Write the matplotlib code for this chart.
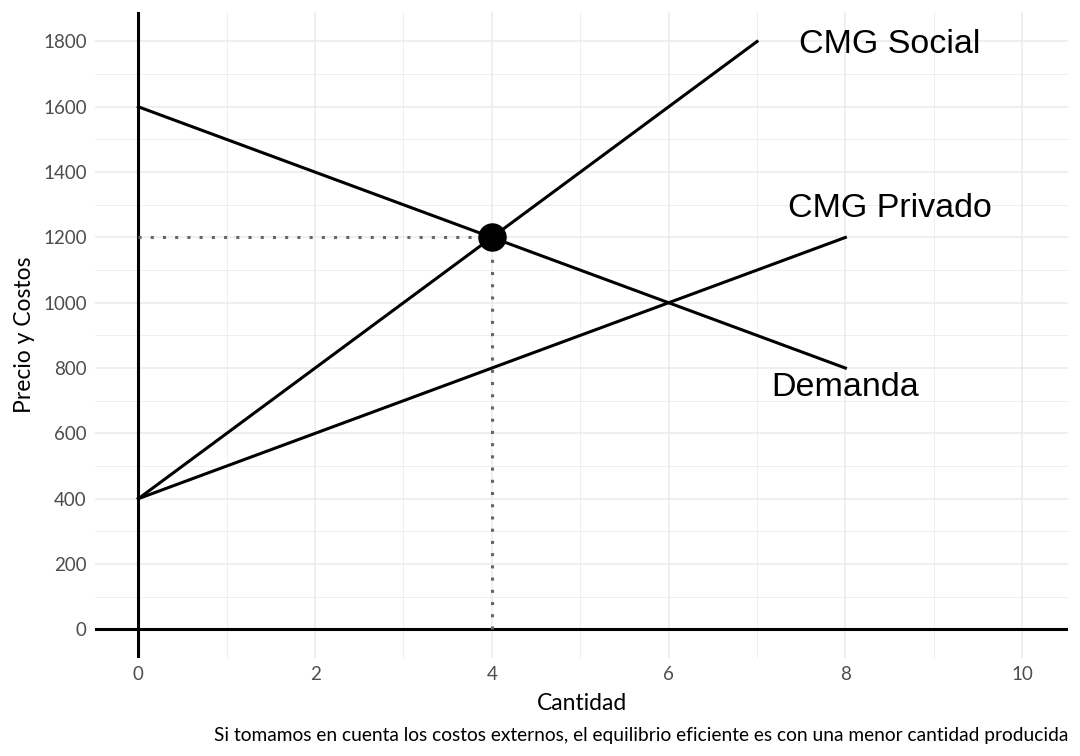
import matplotlib
matplotlib.use('Agg')
import matplotlib.pyplot as plt
from matplotlib.ticker import MultipleLocator

# datos de las curvas
cantidad = [0, 8]
demanda = [1600, 800]
cant_social = [0, 7]
cmg_social = [400, 1800]
cant_privado = [0, 8]
cmg_privado = [400, 1200]

# equilibrio
q_eq = 4
p_eq = 1200

etiquetas = ['CMG Social', 'CMG Privado', 'Demanda']
etiq_x = [8.5, 8.5, 8]
etiq_y = [1790, 1290, 740]

plt.rcParams['font.family'] = ['Lato', 'DejaVu Sans']

fig = plt.figure(figsize=(10.8, 7.56), dpi=100)
ax = fig.add_axes([0.088, 0.130, 0.901, 0.854])

ax.set_xlim(-0.49, 10.52)
ax.set_ylim(-87, 1890)

ax.xaxis.set_major_locator(MultipleLocator(2))
ax.xaxis.set_minor_locator(MultipleLocator(1))
ax.yaxis.set_major_locator(MultipleLocator(200))
ax.yaxis.set_minor_locator(MultipleLocator(100))
ax.grid(which='major', color='#EBEBEB', linewidth=1.1)
ax.grid(which='minor', color='#EBEBEB', linewidth=0.55)
ax.set_axisbelow(True)
for s in ax.spines.values():
    s.set_visible(False)
ax.tick_params(which='both', length=0, labelsize=13.5, labelcolor='#4D4D4D', pad=6)

ax.axhline(0, color='black', linewidth=2.2)
ax.axvline(0, color='black', linewidth=2.2)

ax.plot(cantidad, demanda, color='black', linewidth=2.2)
ax.plot(cant_social, cmg_social, color='black', linewidth=2.2)
ax.plot(cant_privado, cmg_privado, color='black', linewidth=2.2)

ax.plot([0, q_eq], [p_eq, p_eq], color='#666666', linewidth=2.2, linestyle=(0, (1, 3)))
ax.plot([q_eq, q_eq], [0, p_eq], color='#666666', linewidth=2.2, linestyle=(0, (1, 3)))
ax.scatter([q_eq], [p_eq], s=380, color='black', zorder=5)

for t, x, y in zip(etiquetas, etiq_x, etiq_y):
    ax.text(x, y, t, fontsize=24.5, family='Liberation Sans', ha='center', va='center')

ax.set_xlabel('Cantidad', fontsize=16.5, labelpad=7)
ax.set_ylabel('Precio y Costos', fontsize=16.5, labelpad=6)

fig.text(0.989, 0.016, 'Si tomamos en cuenta los costos externos, el equilibrio eficiente es con una menor cantidad producida',
         ha='right', va='bottom', fontsize=13.75)

fig.savefig('out.png', dpi=100)
